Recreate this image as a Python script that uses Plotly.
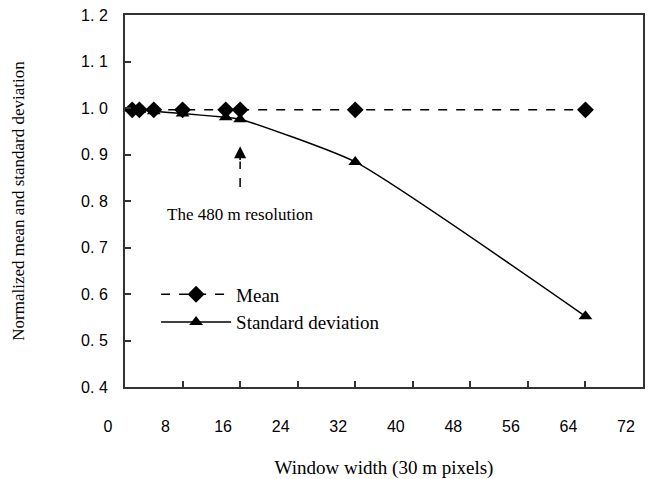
import plotly.graph_objects as go

window = [1, 2, 4, 8, 14, 16, 32, 64]
mean_vals = [0.996, 0.996, 0.996, 0.996, 0.996, 0.996, 0.996, 0.996]
std_vals = [0.998, 0.996, 0.993, 0.988, 0.98, 0.976, 0.884, 0.552]

x_ticks = [0, 8, 16, 24, 32, 40, 48, 56, 64, 72]
y_ticks = [0.4, 0.5, 0.6, 0.7, 0.8, 0.9, 1.0, 1.1, 1.2]
y_ticktext = ["0. 4", "0. 5", "0. 6", "0. 7", "0. 8", "0. 9", "1. 0", "1. 1", "1. 2"]

serif = "Liberation Serif, Times New Roman, serif"
sans = "Liberation Sans, Arial, sans-serif"

fig = go.Figure()
fig.add_trace(go.Scatter(
    x=window, y=mean_vals, name="Mean", mode="lines+markers",
    line=dict(color="black", width=1.5, dash="dash"),
    marker=dict(symbol="diamond", size=13, color="black"),
))
fig.add_trace(go.Scatter(
    x=window, y=std_vals, name="Standard deviation", mode="lines+markers",
    line=dict(color="black", width=1.5, shape="spline", smoothing=0.5),
    marker=dict(symbol="triangle-up", size=12, color="black"),
))

# dashed arrow stem
fig.add_shape(type="line", x0=16, x1=16, y0=0.83, y1=0.885,
              line=dict(color="black", width=1.5, dash="dash"))
fig.add_annotation(x=16, y=0.918, ax=16, ay=0.885, xref="x", yref="y",
                   axref="x", ayref="y", text="", showarrow=True,
                   arrowhead=2, arrowsize=1.6, arrowwidth=1.5, arrowcolor="black")
fig.add_annotation(x=5.6, y=0.772, xref="x", yref="y", text="The 480 m resolution",
                   showarrow=False, xanchor="left",
                   font=dict(family=serif, size=17, color="black"))

axis_common = dict(
    showline=True, linecolor="#333333", linewidth=2, mirror=True,
    ticks="inside", tickcolor="#333333", tickwidth=2, ticklen=6,
    showgrid=False, zeroline=False, automargin=False,
    ticklabeloverflow="allow",
    tickfont=dict(family=sans, size=16, color="black"),
)

fig.update_xaxes(range=[0, 72], tickvals=x_ticks, ticklabelstandoff=24,
                 ticklabelshift=-17,
                 title=dict(text="Window width (30 m pixels)", standoff=32,
                            font=dict(family=serif, size=19, color="black")),
                 **axis_common)
fig.update_yaxes(range=[0.4, 1.2], tickvals=y_ticks, ticktext=y_ticktext,
                 ticklabelstandoff=12,
                 title=dict(text="Normalized mean and standard deviation", standoff=52,
                            font=dict(family=serif, size=17, color="black")),
                 **axis_common)

fig.update_layout(
    width=650, height=479,
    margin=dict(l=125, r=7, t=15, b=92),
    paper_bgcolor="white", plot_bgcolor="white",
    showlegend=True,
    legend=dict(x=0.06, y=0.3, xanchor="left", yanchor="top",
                bgcolor="rgba(0,0,0,0)", itemwidth=70, tracegroupgap=4,
                font=dict(family=serif, size=19, color="black")),
)

fig.write_html("out.html")
